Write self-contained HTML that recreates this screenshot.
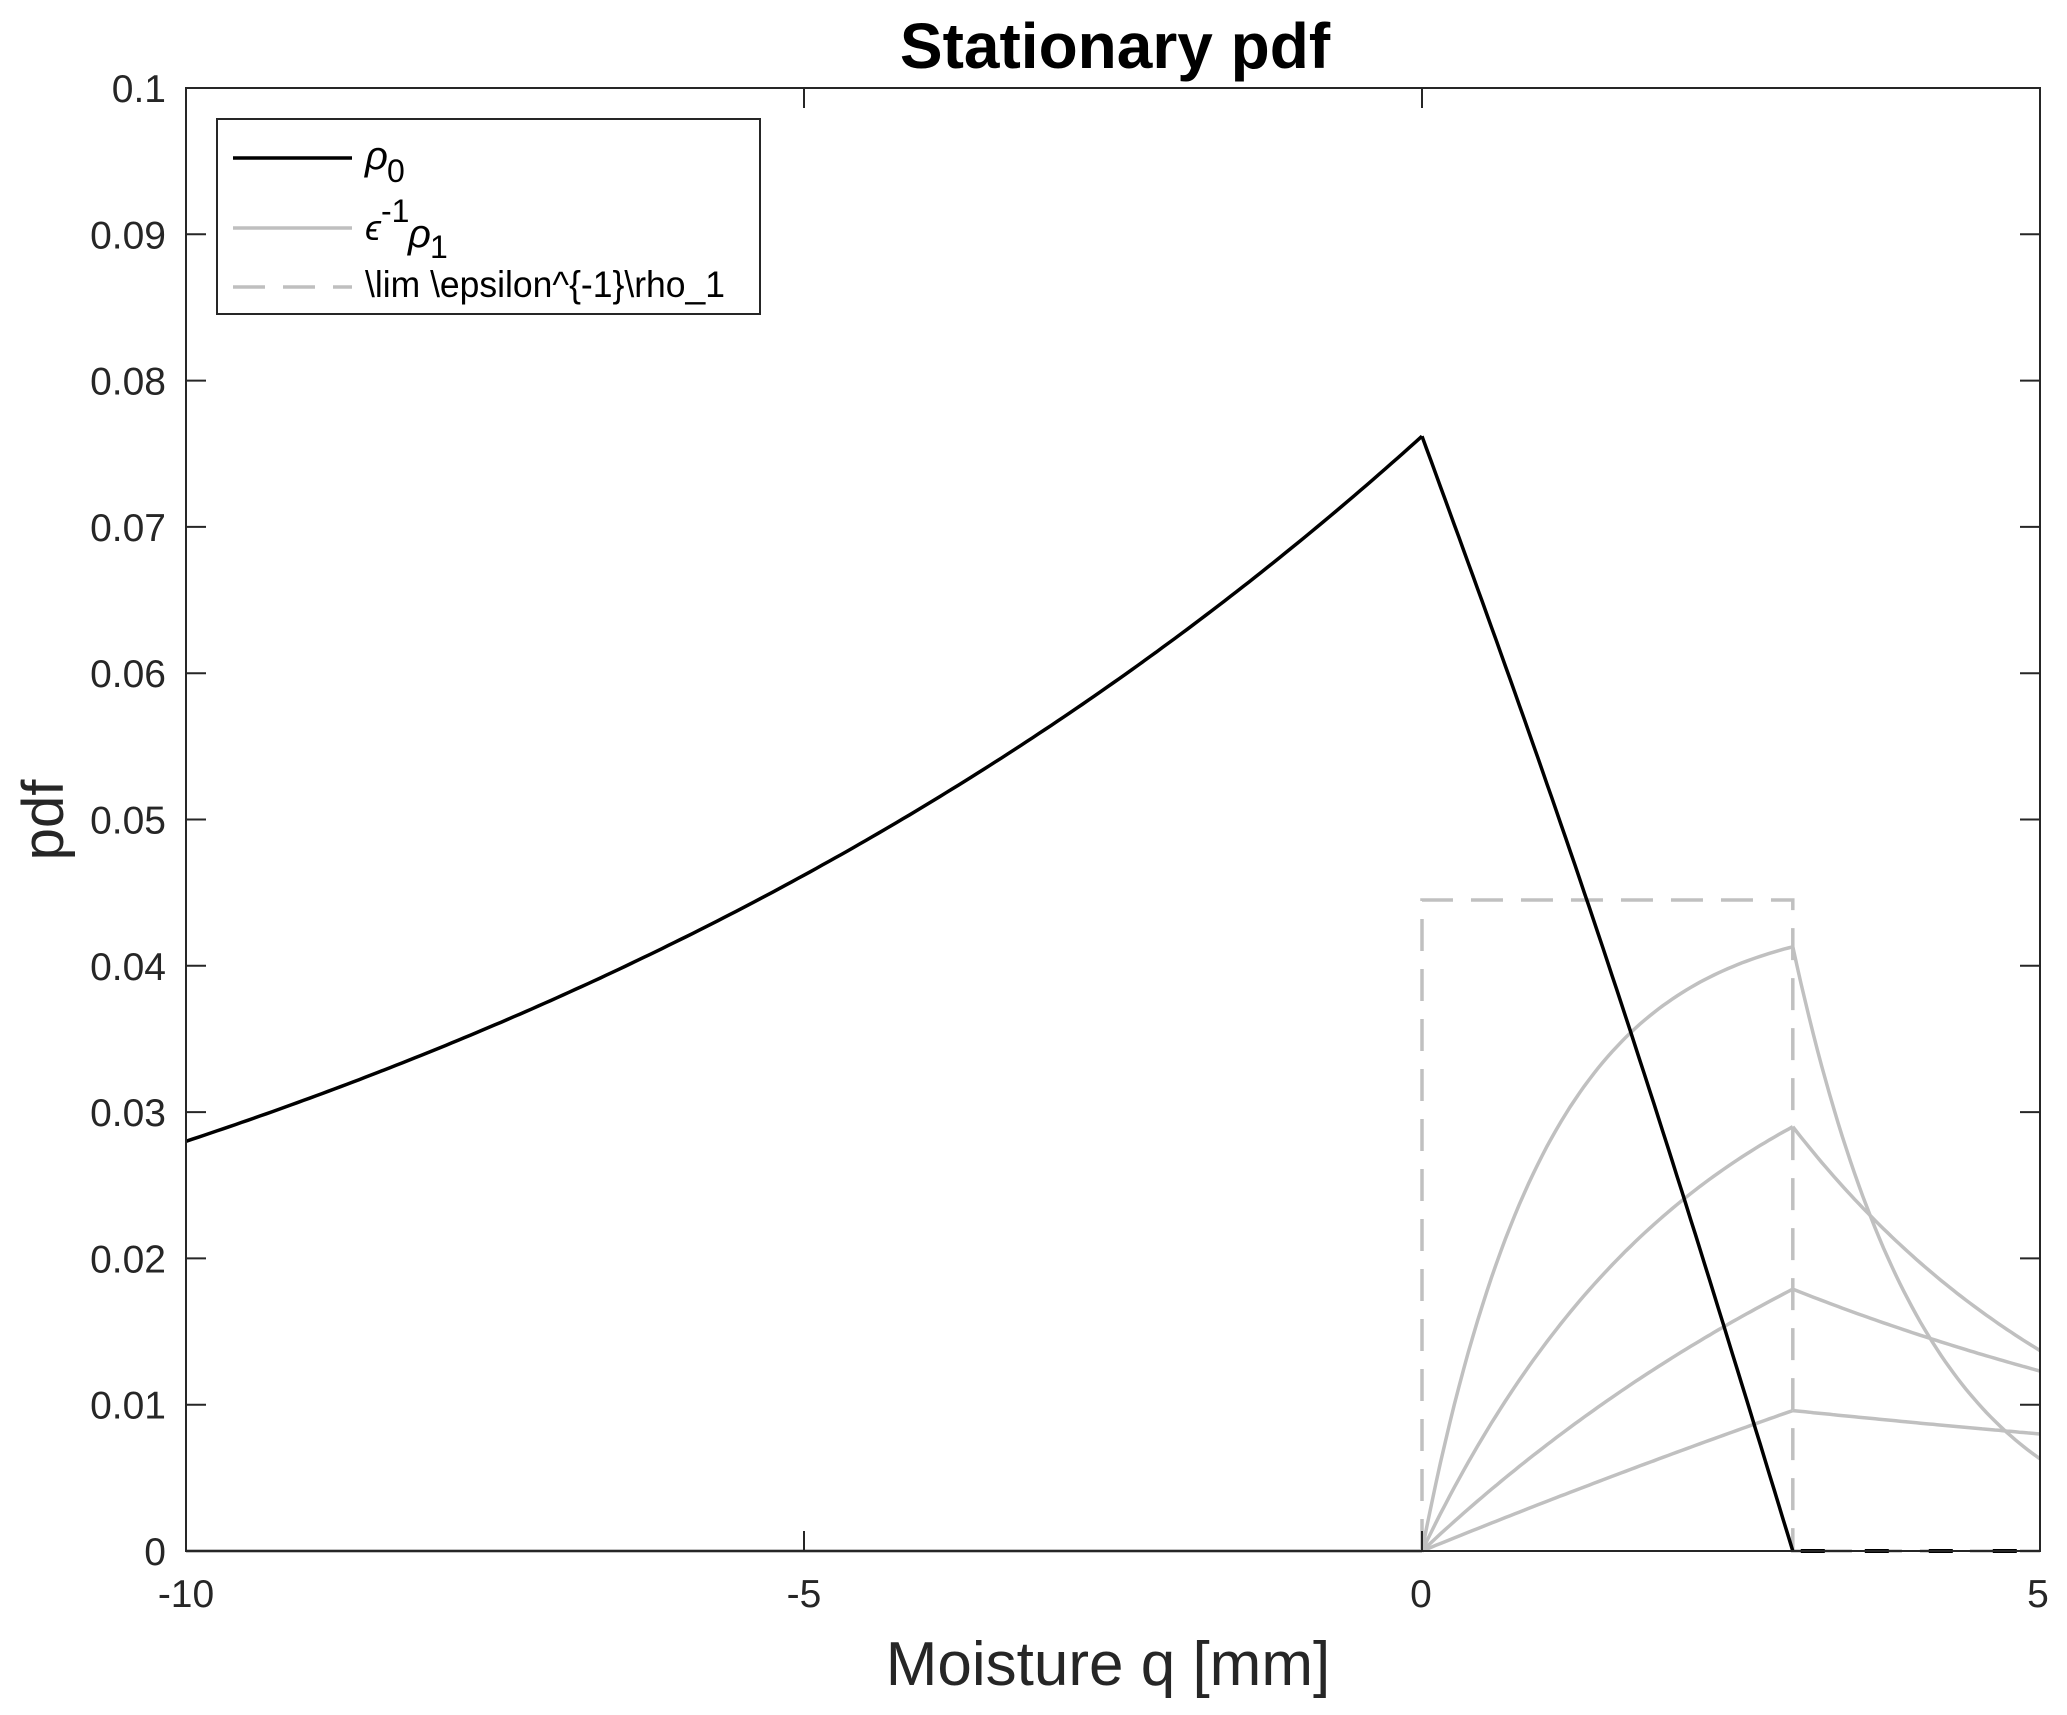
<!DOCTYPE html>
<html><head><meta charset="utf-8"><style>
html,body{margin:0;padding:0;background:#fff}
svg{display:block}
text{font-family:"Liberation Sans",sans-serif;fill:#262626}
</style></head><body>
<svg id="s" width="2067" height="1715" viewBox="0 0 2067 1715" xmlns="http://www.w3.org/2000/svg">
<rect width="2067" height="1715" fill="#fff"/>
<g id="plot"></g>
<rect x="186" y="88" width="1854" height="1463" fill="none" stroke="#262626" stroke-width="2"/>
<g id="ticks" stroke="#262626" stroke-width="2"></g>
<g id="labels" font-size="39" text-anchor="end"></g>
<g font-size="39" text-anchor="middle">
<text x="186" y="1607">-10</text><text x="804" y="1607">-5</text><text x="1421" y="1607">0</text><text x="2038" y="1607">5</text>
</g>
<text x="1108" y="1685" font-size="62" text-anchor="middle">Moisture q [mm]</text>
<text x="1115" y="68" font-size="64" font-weight="bold" text-anchor="middle" style="fill:#000">Stationary pdf</text>
<text transform="translate(63,820) rotate(-90)" font-size="58" text-anchor="middle">pdf</text>
<rect x="217" y="119" width="543" height="195" fill="#fff" stroke="#262626" stroke-width="2"/>
<line x1="233" y1="158" x2="352" y2="158" stroke="#000" stroke-width="3.5"/>
<line x1="233" y1="228" x2="352" y2="228" stroke="#bfbfbf" stroke-width="3.5"/>
<line x1="233" y1="287" x2="352" y2="287" stroke="#bfbfbf" stroke-width="3.5" stroke-dasharray="32,18"/>
<text x="365" y="169" font-size="40" font-style="italic" style="fill:#000">ρ</text>
<text x="387" y="182" font-size="32" style="fill:#000">0</text>
<text x="365" y="240" font-size="36" font-style="italic" style="fill:#000">ϵ</text>
<text x="381" y="222" font-size="32" style="fill:#000">-1</text>
<text x="408" y="247" font-size="40" font-style="italic" style="fill:#000">ρ</text>
<text x="430" y="258" font-size="32" style="fill:#000">1</text>
<text x="365" y="297" font-size="37" textLength="360" lengthAdjust="spacingAndGlyphs" style="fill:#000">\lim \epsilon^{-1}\rho_1</text>
</svg>
<script>
const L=186,R=2040,T=88,B=1551;
const X=q=>L+(q+10)*(R-L)/15, Y=v=>B-v*(B-T)/0.1;
const ns="http://www.w3.org/2000/svg";
function el(p,tag,a){const e=document.createElementNS(ns,tag);for(const k in a)e.setAttribute(k,a[k]);p.appendChild(e);return e;}
const plot=document.getElementById('plot');
function path(f,a,b,n,attrs){let d='';for(let i=0;i<=n;i++){const q=a+(b-a)*i/n;d+=(i?'L':'M')+X(q).toFixed(1)+','+Y(f(q)).toFixed(1);}attrs.d=d;attrs.fill='none';el(plot,'path',attrs);}
const g={stroke:'#c0c0c0','stroke-width':3.5};
el(plot,'line',{x1:X(-10),y1:Y(0),x2:X(0),y2:Y(0),stroke:'#c0c0c0','stroke-width':4});
const P=[0.0413,0.029,0.0179,0.0096],K=[1.0,0.45,0.2,0.05],E=[0.0063,0.0137,0.0123,0.0080];
for(let i=0;i<4;i++){
  const k=K[i],p=P[i];
  path(q=>p*(1-Math.exp(-k*q))/(1-Math.exp(-3*k)),0,3,80,{...g});
  const r=Math.log(E[i]/p)/2;
  path(q=>p*Math.exp(r*(q-3)),3,5,60,{...g});
}
el(plot,'path',{d:`M${X(0)},${Y(0)}L${X(0)},${Y(0.0445)}L${X(3)},${Y(0.0445)}L${X(3)},${Y(0)}L${X(5)},${Y(0)}`,fill:'none',stroke:'#c0c0c0','stroke-width':3.5,'stroke-dasharray':'32,18'});
path(q=>0.0762*Math.exp(0.1001*q),-10,0,200,{stroke:'#000','stroke-width':3.5});
path(q=>0.0762*(1-q/3)+0.0022*Math.sin(Math.PI*q/3),0,3,80,{stroke:'#000','stroke-width':3.5});
el(plot,'line',{x1:X(3)+8,y1:Y(0),x2:X(5),y2:Y(0),stroke:'#000','stroke-width':4,'stroke-dasharray':'24,40'});
const tk=document.getElementById('ticks'),lb=document.getElementById('labels');
for(let i=0;i<=10;i++){const y=Y(i/100);
 el(tk,'line',{x1:L,y1:y,x2:L+20,y2:y});el(tk,'line',{x1:R,y1:y,x2:R-20,y2:y});
 const t=el(lb,'text',{x:166,y:y+14});t.textContent=i==0?'0':i==10?'0.1':'0.0'+i;}
for(const q of [-10,-5,0,5]){const x=X(q);el(tk,'line',{x1:x,y1:B,x2:x,y2:B-20});el(tk,'line',{x1:x,y1:T,x2:x,y2:T+20});}
</script>
</body></html>
